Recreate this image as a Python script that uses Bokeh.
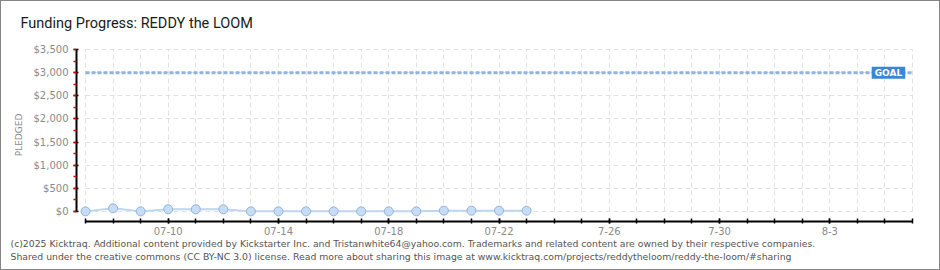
import pandas as pd
from bokeh.plotting import figure
from bokeh.models import (ColumnDataSource, FixedTicker, SingleIntervalTicker,
                          NumeralTickFormatter, Label, Range1d, Grid, Title)
from bokeh.embed import file_html
from bokeh.resources import INLINE

# ---------------- data ----------------
TITLE = "Funding Progress: REDDY the LOOM"
START_DATE = "2025-07-07"
END_DATE = "2025-08-06"
dates = ["2025-07-07", "2025-07-08", "2025-07-09", "2025-07-10", "2025-07-11",
         "2025-07-12", "2025-07-13", "2025-07-14", "2025-07-15", "2025-07-16",
         "2025-07-17", "2025-07-18", "2025-07-19", "2025-07-20", "2025-07-21",
         "2025-07-22", "2025-07-23"]
pledged = [0, 65, 0, 45, 45, 45, 0, 0, 0, 0, 0, 0, 0, 15, 15, 15, 15]
goal = 3000
y_tick_step = 500
y_max = 3500
x_label_dates = ["2025-07-10", "2025-07-14", "2025-07-18", "2025-07-22",
                 "2025-07-26", "2025-07-30", "2025-08-03"]
x_labels = ["07-10", "07-14", "07-18", "07-22", "7-26", "7-30", "8-3"]
y_axis_label = "PLEDGED"
goal_label = "GOAL"
footer_lines = [
    "(c)2025 Kicktraq. Additional content provided by Kickstarter Inc. and Tristanwhite64@yahoo.com. Trademarks and related content are owned by their respective companies.",
    "Shared under the creative commons (CC BY-NC 3.0) license. Read more about sharing this image at www.kicktraq.com/projects/reddytheloom/reddy-the-loom/#sharing",
]

# ---------------- prep ----------------
t0 = pd.Timestamp(START_DATE)
day = [(pd.Timestamp(d) - t0).days for d in dates]
last_day = (pd.Timestamp(END_DATE) - t0).days
all_days = list(range(0, last_day + 1))
label_days = [(pd.Timestamp(d) - t0).days for d in x_label_dates]

src = ColumnDataSource(dict(day=day, pledged=pledged))

FONT = "DejaVu Sans"
GRAY = "#8a8a8a"
FRAME_LEFT = 75   # inside a 1px border, so the frame starts at x=76 on the page

p = figure(width=938, height=268, output_backend="svg", toolbar_location=None,
           x_range=Range1d(-0.327, last_day + 0.036),
           y_range=Range1d(-219, y_max + 22),
           min_border_left=FRAME_LEFT, min_border_right=28,
           min_border_top=47, min_border_bottom=50)
p.outline_line_color = None
p.background_fill_color = "white"
p.border_fill_color = "white"
p.styles = {"border": "1px solid #858585", "box-sizing": "content-box"}

# title (above): an empty spacer next to the frame, then the title itself
p.title.text = ""
p.add_layout(Title(text=" ", text_font_size="1px", standoff=12), "above")
p.add_layout(Title(text=TITLE, align="left", offset=19 - FRAME_LEFT,
                   text_font="Roboto", text_font_size="14.5px",
                   text_font_style="normal", text_color="#1a1a1a",
                   standoff=4), "above")
# footer (below)
for i, line in enumerate(footer_lines):
    p.add_layout(Title(text=line, align="left", offset=9 - FRAME_LEFT,
                       text_font="DejaVu Sans", text_font_size="9.3px",
                       text_font_style="normal", text_color="#555555",
                       vertical_align="top", standoff=0), "below")

# grids
p.xgrid.ticker = FixedTicker(ticks=all_days)
for g in p.xgrid:
    g.bounds = (0, last_day)
    if "cross_bounds" in Grid.properties():
        g.cross_bounds = (0, y_max)
for g in p.ygrid:
    g.bounds = (0, y_max)
    if "cross_bounds" in Grid.properties():
        g.cross_bounds = (0, last_day)
p.grid.grid_line_color = "#e2e2e2"
p.grid.grid_line_dash = "5 3"
p.grid.grid_line_width = 1

# y axis
ya = p.yaxis[0]
ya.ticker = SingleIntervalTicker(interval=y_tick_step, num_minor_ticks=2)
ya.formatter = NumeralTickFormatter(format="$0,0")
ya.bounds = (0, y_max)
ya.axis_line_color = "black"
ya.axis_line_width = 2
ya.major_tick_line_color = "black"
ya.major_tick_line_width = 1.5
ya.major_tick_in = 2
ya.major_tick_out = 3
ya.minor_tick_line_color = "#e00000"
ya.minor_tick_line_width = 1.5
ya.minor_tick_in = 0
ya.minor_tick_out = 3
ya.major_label_text_font = FONT
ya.major_label_text_font_size = "10px"
ya.major_label_text_color = GRAY
ya.major_label_standoff = 5
ya.axis_label = y_axis_label
ya.axis_label_text_font = FONT
ya.axis_label_text_font_size = "9px"
ya.axis_label_text_font_style = "normal"
ya.axis_label_text_color = GRAY
ya.axis_label_standoff = 7

# x axis
xa = p.xaxis[0]
xa.ticker = FixedTicker(ticks=label_days, minor_ticks=all_days)
xa.major_label_overrides = {d: l for d, l in zip(label_days, x_labels)}
xa.bounds = (0, last_day)
xa.axis_line_color = "black"
xa.axis_line_width = 2
xa.major_tick_line_color = "black"
xa.major_tick_line_width = 1.5
xa.major_tick_in = 3
xa.major_tick_out = 2
xa.minor_tick_line_color = "black"
xa.minor_tick_line_width = 1.5
xa.minor_tick_in = 3
xa.minor_tick_out = 2
xa.major_label_text_font = FONT
xa.major_label_text_font_size = "10px"
xa.major_label_text_color = GRAY
xa.major_label_standoff = 3

# goal line
p.segment(x0=[0], y0=[goal], x1=[last_day], y1=[goal],
          line_color="#93b2dc", line_width=3, line_dash="4 2")
p.add_layout(Label(x=28.52, y=goal, text=goal_label, text_color="white",
                   text_font=FONT, text_font_style="bold",
                   text_font_size="9px", text_baseline="middle",
                   text_align="left",
                   background_fill_color="#3a87d6",
                   padding=dict(left=3, right=3, top=1, bottom=1)))

# data
p.line(x="day", y="pledged", source=src, line_color="#bcd5f1", line_width=2)
p.scatter(x="day", y="pledged", source=src, size=9,
          fill_color="#c6ddf7", line_color="#93b3db", line_width=1)

open("out.html", "w").write(file_html(p, INLINE))
